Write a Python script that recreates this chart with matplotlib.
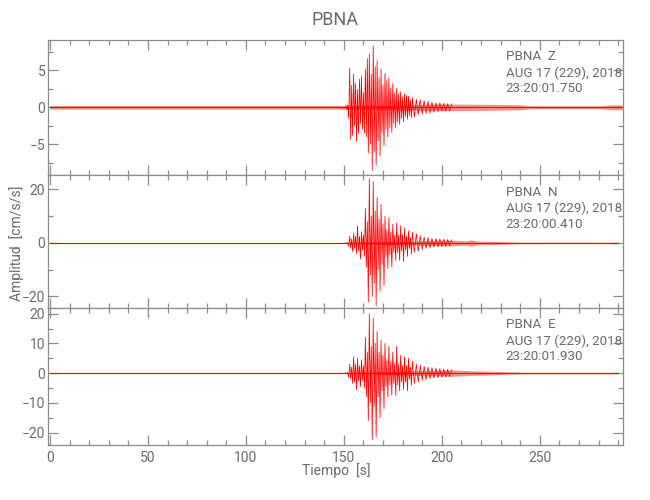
import numpy as np
import matplotlib
matplotlib.use("Agg")
import matplotlib.pyplot as plt
from matplotlib.ticker import MultipleLocator

## Data (cm/s/s)
# strong motion: peak amplitudes, alternating sign
t_main = np.arange(151, 185.5, 0.5)   # 151 .. 185 s, every 0.5 s
t_tail = np.arange(186, 206, 1)       # 186 .. 205 s, every 1 s

z_main = [0.2, -0.3, 0.3, -1.5, 5.3, -4.4, 3.0, -3.8, 4.5, -2.5,
          3.2, -4.6, 2.4, -3.5, 3.8, -2.2, 4.2, -3.0, 2.0, -3.5,
          5.2, -4.0, 6.6, -6.2, 7.2, -5.0, 4.5, -8.5, 8.3, -6.0,
          5.5, -7.8, 6.3, -4.5, 4.0, -6.6, 5.2, -3.5, 3.0, -5.2,
          4.6, -3.0, 3.6, -4.0, 4.0, -2.8, 2.6, -3.4, 3.2, -2.2,
          2.0, -2.8, 2.6, -2.0, 1.8, -2.3, 2.1, -1.5, 1.4, -2.0,
          1.8, -1.2, 1.6, -1.6, 1.5, -1.1, 1.0, -1.4, 1.3]
z_tail = [-1.3, 1.1, -1.0, 1.0, -0.9, 0.9, -0.8, 0.8, -0.8, 0.7,
          -0.7, 0.6, -0.6, 0.6, -0.5, 0.55, -0.5, 0.5, -0.5, 0.45]

n_main = [0.1, -0.2, 0.2, -1.2, 2.5, -2.0, 1.5, -3.2, 3.6, -2.0,
          2.5, -4.0, 6.5, -3.0, 2.5, -6.0, 4.2, -2.5, 3.0, -5.0,
          13.0, -9.0, 8.0, -22.0, 24.0, -12.0, 10.0, -20.0, 23.0, -15.0,
          12.0, -23.5, 17.0, -10.0, 9.0, -18.0, 14.5, -8.0, 7.0, -16.0,
          10.0, -5.0, 5.0, -9.5, 9.5, -4.5, 4.0, -9.0, 7.0, -3.5,
          3.0, -6.5, 7.5, -3.5, 3.0, -6.5, 6.5, -3.0, 3.0, -7.0,
          5.5, -2.5, 2.5, -5.0, 4.5, -2.0, 2.0, -4.0, 4.0]
n_tail = [-3.5, 3.5, -3.0, 2.6, -2.4, 2.2, -2.0, 2.0, -1.8, 1.7,
          -1.6, 1.6, -1.5, 1.5, -1.4, 1.4, -1.3, 1.3, -1.2, 1.2]

e_main = [0.1, -0.2, 0.2, -1.5, 3.0, -2.0, 2.0, -3.5, 5.5, -3.0,
          3.0, -5.6, 5.0, -2.5, 2.5, -4.5, 4.5, -2.5, 2.5, -5.0,
          12.0, -8.0, 7.0, -16.0, 20.0, -10.0, 9.0, -22.5, 18.5, -11.0,
          10.0, -21.5, 14.0, -8.0, 7.0, -15.0, 11.0, -6.0, 6.0, -12.0,
          10.0, -4.5, 4.5, -8.0, 9.0, -4.0, 4.0, -7.5, 7.0, -3.5,
          3.5, -7.5, 9.0, -4.0, 3.0, -6.0, 6.0, -3.0, 2.5, -5.5,
          5.5, -3.0, 2.5, -6.0, 5.0, -2.0, 2.0, -4.0, 4.0]
e_tail = [-3.5, 3.0, -3.0, 2.6, -2.4, 2.2, -2.2, 2.0, -1.9, 1.8,
          -1.7, 1.6, -1.5, 1.5, -1.4, 1.3, -1.3, 1.2, -1.2, 1.1]

# background noise level (half width of the noise band)
z_band_t = [0, 150, 152, 205, 240, 245, 280, 285, 292]
z_band = [0.25, 0.25, 0.3, 0.45, 0.35, 0.2, 0.2, 0.3, 0.35]
n_band_t = [0, 150, 152, 205, 212, 215, 218, 230, 240, 290]
n_band = [0.12, 0.12, 0.15, 1.1, 0.8, 1.2, 0.7, 0.5, 0.3, 0.25]
e_band_t = [0, 150, 152, 205, 215, 230, 240, 290]
e_band = [0.12, 0.12, 0.15, 1.1, 0.8, 0.5, 0.3, 0.25]

components = ["Z", "N", "E"]
start_times = ["23:20:01.750", "23:20:00.410", "23:20:01.930"]
date_label = "AUG 17 (229), 2018"
station = "PBNA"

ylims = [(-9.15, 9.1), (-24.3, 25.4), (-24.2, 21.9)]
ymajor = [5, 20, 10]
yminor = [2.5, 10, 5]

peaks = [z_main + z_tail, n_main + n_tail, e_main + e_tail]
bands = [(z_band_t, z_band), (n_band_t, n_band), (e_band_t, e_band)]
t_peaks = np.concatenate([t_main, t_tail])

## Figure
grey = "#8c8c8c"
txt = "#6a6a6a"
plt.rcParams["font.family"] = ["Roboto", "DejaVu Sans"]

fig = plt.figure(figsize=(6.5, 5), dpi=100)
left, width = 48/650, 575/650
boxes = [(40, 175), (175, 308), (308, 445)]   # pixel rows of each panel

for k, (top, bot) in enumerate(boxes):
    ax = fig.add_axes([left, 1 - bot/500, width, (bot - top)/500])
    bt, bl = np.array(bands[k][0]), np.array(bands[k][1])
    ax.fill_between(bt, -bl, bl, color="red", alpha=0.45, lw=0)
    ax.plot(bt, 0*bl, color="red", lw=0.8)
    ax.plot(t_peaks, peaks[k], color="red", lw=0.55)
    ax.set_xlim(-1, 292.5)
    ax.set_ylim(*ylims[k])

    ax.xaxis.set_major_locator(MultipleLocator(50))
    ax.xaxis.set_minor_locator(MultipleLocator(10))
    ax.yaxis.set_major_locator(MultipleLocator(ymajor[k]))
    ax.yaxis.set_minor_locator(MultipleLocator(yminor[k]))
    ax.tick_params(which="both", direction="in", top=True, right=True,
                   color=grey, labelcolor=txt, labelsize=10, width=0.9)
    ax.tick_params(which="major", length=7, pad=2)
    ax.tick_params(which="minor", length=3.5)
    ax.tick_params(axis="x", pad=4)
    if k < 2:
        ax.tick_params(labelbottom=False)
    for s in ax.spines.values():
        s.set_color(grey)
        s.set_linewidth(0.9)

    # station / date / time label, three lines
    h = bot - top
    lines = [station + "  " + components[k], date_label, start_times[k]]
    for j, line in enumerate(lines):
        ax.text(0.796, 1 - (17 + 16*j)/h, line, transform=ax.transAxes,
                ha="left", va="center", fontsize=9.6, color=txt)

fig.text(335/650, 1 - 20/500, "PBNA", ha="center", va="center",
         fontsize=13, color=txt)
fig.text(17/650, 1 - 243/500, "Amplitud  [cm/s/s]", rotation=90,
         ha="center", va="center", fontsize=10, color=txt)
fig.text(336/650, 1 - 471/500, "Tiempo  [s]", ha="center", va="center",
         fontsize=10, color=txt)

fig.savefig("out.png", dpi=100)
